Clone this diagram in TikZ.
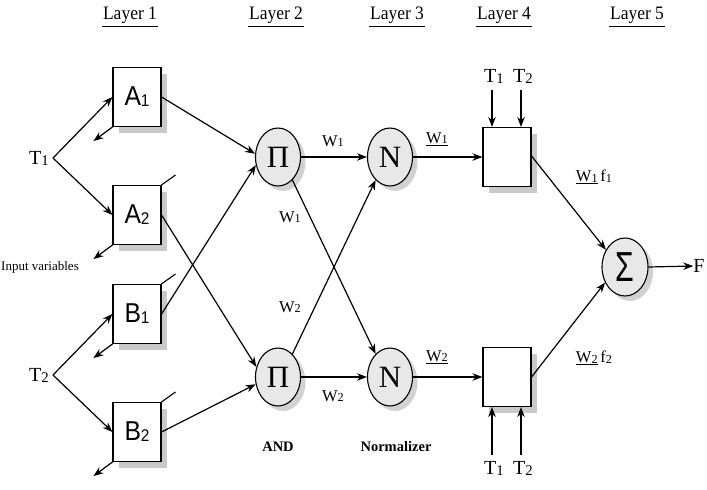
\documentclass[tikz,border=0pt]{standalone}
\usepackage{fontspec}
\setmainfont{Liberation Serif}
\newfontfamily\sansf{Liberation Sans}
\usepackage{graphicx}
\usetikzlibrary{arrows.meta,shadows,shapes.geometric}
\newcommand\sbs[1]{\raisebox{-0.1ex}{\scalebox{0.74}{#1}}}
\begin{document}
\begin{tikzpicture}[x=1pt,y=-1pt,
  arr/.style={line width=1.2pt,-{Stealth[length=10pt,width=7.5pt]}},
  fuzz/.style={draw,line width=1.1pt,minimum width=48pt,minimum height=59pt,fill=white,
    drop shadow={shadow xshift=6pt,shadow yshift=-6pt,fill=black!30,opacity=0.7}},
  oval/.style={ellipse,draw,line width=1.1pt,minimum width=45pt,minimum height=58pt,inner sep=0pt,fill=black!9,
    drop shadow={shadow xshift=5pt,shadow yshift=-5pt,fill=black!30,opacity=0.6}},
  lay/.style={font=\fontsize{19}{19}\selectfont,inner sep=1pt},
  var/.style={font=\fontsize{20}{20}\selectfont,inner sep=0pt},
  wl/.style={font=\fontsize{16.5}{16.5}\selectfont,inner sep=0pt},
  blab/.style={font=\fontsize{14.5}{14.5}\selectfont\bfseries,inner sep=0pt},
  tick/.style={line width=1.1pt}
]
\useasboundingbox (0,0) rectangle (707,490);
% layer labels
\foreach \n/\x in {1/130,2/276,3/397,4/504,5/637}{
  \node[lay] (L\n) at (\x,15) {\scalebox{0.92}[1]{Layer \n}};
  \draw[line width=1.7pt] ([yshift=-2pt]L\n.south west) -- ([yshift=-2pt]L\n.south east);
}
% layer 1 boxes
\node[fuzz,font=\sansf\fontsize{26}{26}\selectfont] (A1) at (137,97) {\scalebox{0.95}[1.05]{A\raisebox{-1pt}{\scalebox{0.62}{1}}}};
\node[fuzz,font=\sansf\fontsize{26}{26}\selectfont] (A2) at (137,215) {\scalebox{0.95}[1.05]{A\raisebox{-1pt}{\scalebox{0.62}{2}}}};
\node[fuzz,font=\sansf\fontsize{26}{26}\selectfont] (B1) at (137,314) {\scalebox{0.95}[1.05]{B\raisebox{-1pt}{\scalebox{0.62}{1}}}};
\node[fuzz,font=\sansf\fontsize{26}{26}\selectfont] (B2) at (137,432) {\scalebox{0.95}[1.05]{B\raisebox{-1pt}{\scalebox{0.62}{2}}}};
% inputs
\node[var] (T1) at (39,158) {T\sbs{1}};
\node[var] (T2) at (39,375) {T\sbs{2}};
\coordinate (v1) at (53,158);
\coordinate (v2) at (53,375);
\draw[arr] (v1) -- (A1.west);
\draw[arr] (v1) -- (A2.west);
\draw[arr] (v2) -- (B1.west);
\draw[arr] (v2) -- (B2.west);
\node[font=\fontsize{13}{13}\selectfont,inner sep=0pt] (iv) at (40,267) {Input variables};
% back arrows and ticks
\foreach \b in {A1,A2,B1,B2}{
  \draw[arr] (\b.south west) -- ++(-19,14);
}
\foreach \b in {A2,B1,B2}{
  \draw[tick] (\b.north east) -- ++(14,-10);
}
% layer 2
\node[oval,font=\fontsize{31}{31}\selectfont] (P1) at (278,157) {Π};
\node[oval,font=\fontsize{31}{31}\selectfont] (P2) at (278,377) {Π};
% layer 3
\node[oval,font=\fontsize{31}{31}\selectfont] (N1) at (390,157) {N};
\node[oval,font=\fontsize{31}{31}\selectfont] (N2) at (390,377) {N};
\draw[arr] (A1.east) -- (P1.172);
\draw[arr] (B1.east) -- (P1.200);
\draw[arr] (A2.east) -- (P2.155);
\draw[arr] (B2.east) -- (P2.198);
\draw[arr] (P1.east) -- (N1.west);
\draw[arr] (P2.east) -- (N2.west);
\draw[arr] (P1.-58) -- (N2.122);
\draw[arr] (P2.58) -- (N1.238);
\node[wl] (w1a) at (333,141) {W\sbs{1}};
\node[wl] (w1b) at (290,217) {W\sbs{1}};
\node[wl] (w2a) at (290,307) {W\sbs{2}};
\node[wl] (w2b) at (333,396) {W\sbs{2}};
% layer 4
\node[fuzz] (R1) at (507,157) {};
\node[fuzz] (R2) at (507,377) {};
\draw[arr] (N1.east) -- (R1.west);
\draw[arr] (N2.east) -- (R2.west);
\node[wl] (u1) at (437,139) {\underline{W\sbs{1}}};
\node[wl] (u2) at (437,357) {\underline{W\sbs{2}}};
\node[var] (t1u) at (494,76) {T\sbs{1}};
\node[var] (t2u) at (523,76) {T\sbs{2}};
\node[var] (t1d) at (494,468) {T\sbs{1}};
\node[var] (t2d) at (523,468) {T\sbs{2}};
\coordinate (a1u) at (492,90);
\coordinate (a2u) at (521,90);
\coordinate (a1d) at (492,455);
\coordinate (a2d) at (521,455);
\draw[arr] (a1u) -- (a1u |- R1.north);
\draw[arr] (a2u) -- (a2u |- R1.north);
\draw[arr] (a1d) -- (a1d |- R2.south);
\draw[arr] (a2d) -- (a2d |- R2.south);
% layer 5
\node[oval,font=\sansf\fontsize{42}{42}\selectfont,minimum width=46pt] (S) at (625,267) {\scalebox{0.72}[1]{Σ}};
\draw[arr] ([yshift=1pt]R1.east) -- (S.138);
\draw[arr] (R2.east) -- (S.218);
\node[wl] (f1) at (594,177) {\underline{W\sbs{1}}\,f\sbs{1}};
\node[wl] (f2) at (594,358) {\underline{W\sbs{2}}\,f\sbs{2}};
\node[var] (F) at (699,266) {F};
\draw[arr] (S.east) -- (F.west);
% bottom labels
\node[blab] (and) at (278,447) {AND};
\node[blab] (nrm) at (396,447) {Normalizer};
\end{tikzpicture}
\end{document}
